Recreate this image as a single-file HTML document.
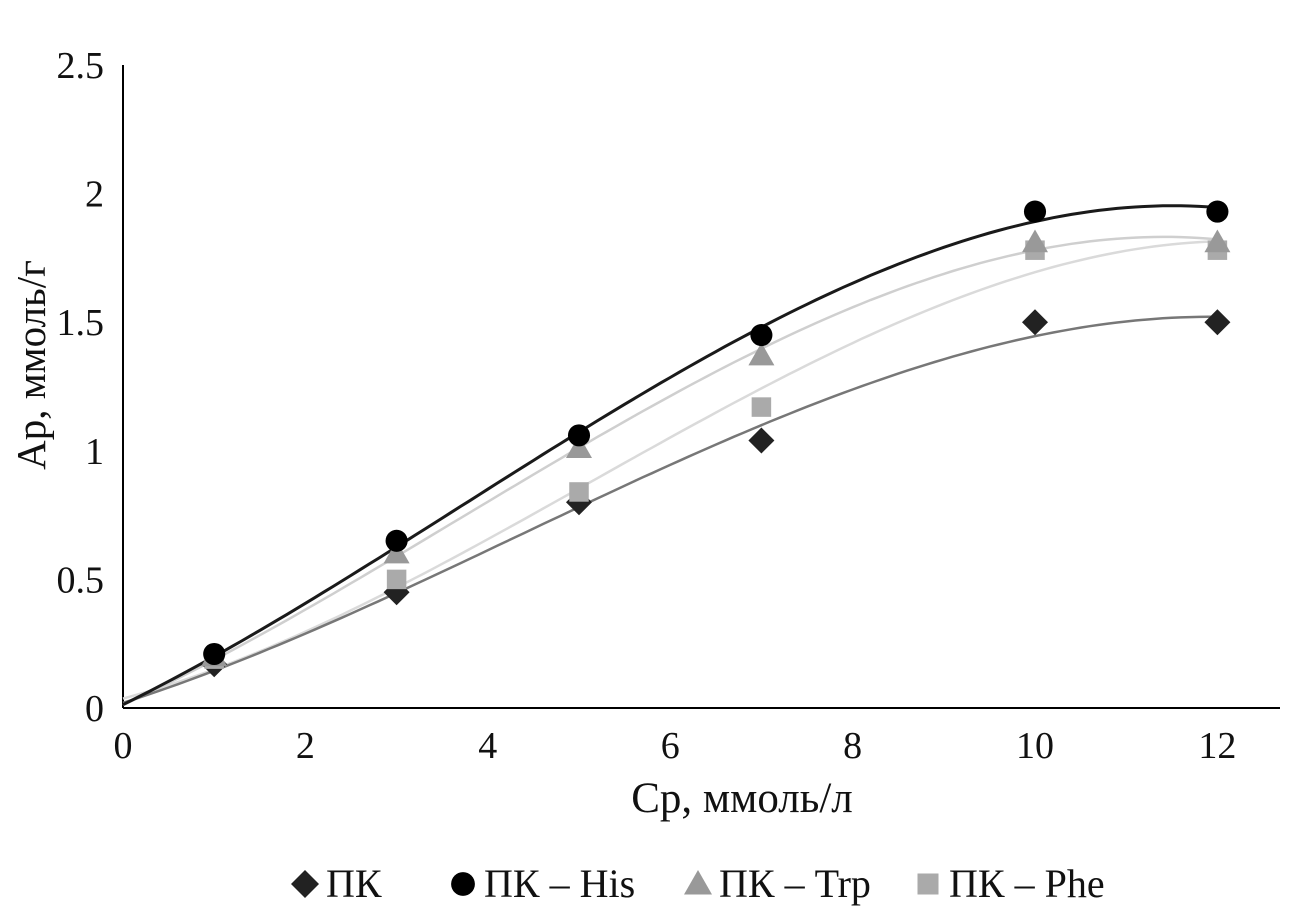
<!DOCTYPE html>
<html><head><meta charset="utf-8"><style>
html,body{margin:0;padding:0;background:#fff}
svg{display:block;font-family:"Liberation Serif",serif}
</style></head><body>
<svg id="chart" width="1309" height="907" viewBox="0 0 1309 907">
<g id="axes"></g>
<g id="series"></g>
<text x="742" y="812" font-size="43" text-anchor="middle" fill="#111">Ср, ммоль/л</text>
<text transform="translate(45,365) rotate(-90)" font-size="41" text-anchor="middle" fill="#111">Ар, ммоль/г</text>
<g id="legend"></g>
</svg>
<script>
const xValues=[1,3,5,7,10,12];
const pkValues=[0.17,0.45,0.80,1.04,1.50,1.50];
const hisValues=[0.21,0.65,1.06,1.45,1.93,1.93];
const trpValues=[0.20,0.60,1.01,1.37,1.81,1.81];
const pheValues=[0.19,0.50,0.84,1.17,1.78,1.78];
const xTicks=[0,2,4,6,8,10,12];
const yTicks=[0,0.5,1,1.5,2,2.5];
const yTickLabels=["0","0.5","1","1.5","2","2.5"];
const seriesNames=["ПК","ПК – His","ПК – Trp","ПК – Phe"];

const NS="http://www.w3.org/2000/svg";
const X=v=>123+v*91.2, Y=v=>708-v*257.2;
function mk(tag,attrs,parent){const e=document.createElementNS(NS,tag);for(const k in attrs)e.setAttribute(k,attrs[k]);parent.appendChild(e);return e;}
const axes=document.getElementById('axes'),ser=document.getElementById('series'),leg=document.getElementById('legend');
let l=mk('line',{x1:123,y1:Y(2.5),x2:123,y2:708,stroke:'#000','stroke-width':2},axes);


l=mk('line',{x1:123,y1:708,x2:1280,y2:708,stroke:'#000','stroke-width':2},axes);


xTicks.forEach(t=>{const e=mk('text',{x:X(t),y:758,'font-size':38,'text-anchor':'middle',fill:'#111'},axes);e.textContent=t;

});
yTicks.forEach((t,i)=>{const e=mk('text',{x:104,y:Y(t)+13,'font-size':38,'text-anchor':'end',fill:'#111'},axes);e.textContent=yTickLabels[i];

});

function fit(ys){
 const xs=[0,...xValues],yy=[0,...ys];const n=4;const A=[...Array(n)].map(()=>Array(n+1).fill(0));
 xs.forEach((x,k)=>{for(let i=0;i<n;i++){for(let j=0;j<n;j++)A[i][j]+=x**(i+j);A[i][n]+=yy[k]*x**i;}});
 for(let i=0;i<n;i++){let p=i;for(let r=i+1;r<n;r++)if(Math.abs(A[r][i])>Math.abs(A[p][i]))p=r;[A[i],A[p]]=[A[p],A[i]];
  for(let r=0;r<n;r++)if(r!==i){const f=A[r][i]/A[i][i];for(let c=i;c<=n;c++)A[r][c]-=f*A[i][c];}}
 const c=A.map((r,i)=>r[n]/r[i]);return x=>c[0]+c[1]*x+c[2]*x*x+c[3]*x**3;}
const all=[pkValues,hisValues,trpValues,pheValues];
const lineCol=['#777','#1a1a1a','#cfcfcf','#dadada'];
const mCol=['#222','#000','#999','#aaa'];
const names=['pk','his','trp','phe'];
[3,2,0,1].forEach(s=>{const f=fit(all[s]);let d='';for(let x=0;x<=12;x+=0.1)d+=(x?'L':'M')+X(x).toFixed(1)+','+Y(f(x)).toFixed(1);
 const p=mk('path',{d,fill:'none',stroke:lineCol[s],'stroke-width':s==1?3:2.5},ser);
 
 });
function marker(s,cx,cy,parent,r){let e;
 if(s==0)e=mk('polygon',{points:`${cx},${cy-r} ${cx+r},${cy} ${cx},${cy+r} ${cx-r},${cy}`,fill:mCol[s]},parent);
 else if(s==1)e=mk('circle',{cx,cy,r:r*0.85,fill:mCol[s]},parent);
 else if(s==2)e=mk('polygon',{points:`${cx},${cy-r} ${cx+r},${cy+r*0.75} ${cx-r},${cy+r*0.75}`,fill:mCol[s]},parent);
 else e=mk('rect',{x:cx-r*0.75,y:cy-r*0.75,width:r*1.5,height:r*1.5,fill:mCol[s]},parent);
 return e;}
[0,3,2,1].forEach(s=>all[s].forEach((v,i)=>{const e=marker(s,X(xValues[i]),Y(v),ser,13);
 
 }));
const lx=[305,463,698,928];
seriesNames.forEach((n,s)=>{const e=marker(s,lx[s],884,leg,14);
 
 
 const t=mk('text',{x:lx[s]+21,y:897,'font-size':40,fill:'#111'},leg);t.textContent=n;
 
 });
</script>
</body></html>
